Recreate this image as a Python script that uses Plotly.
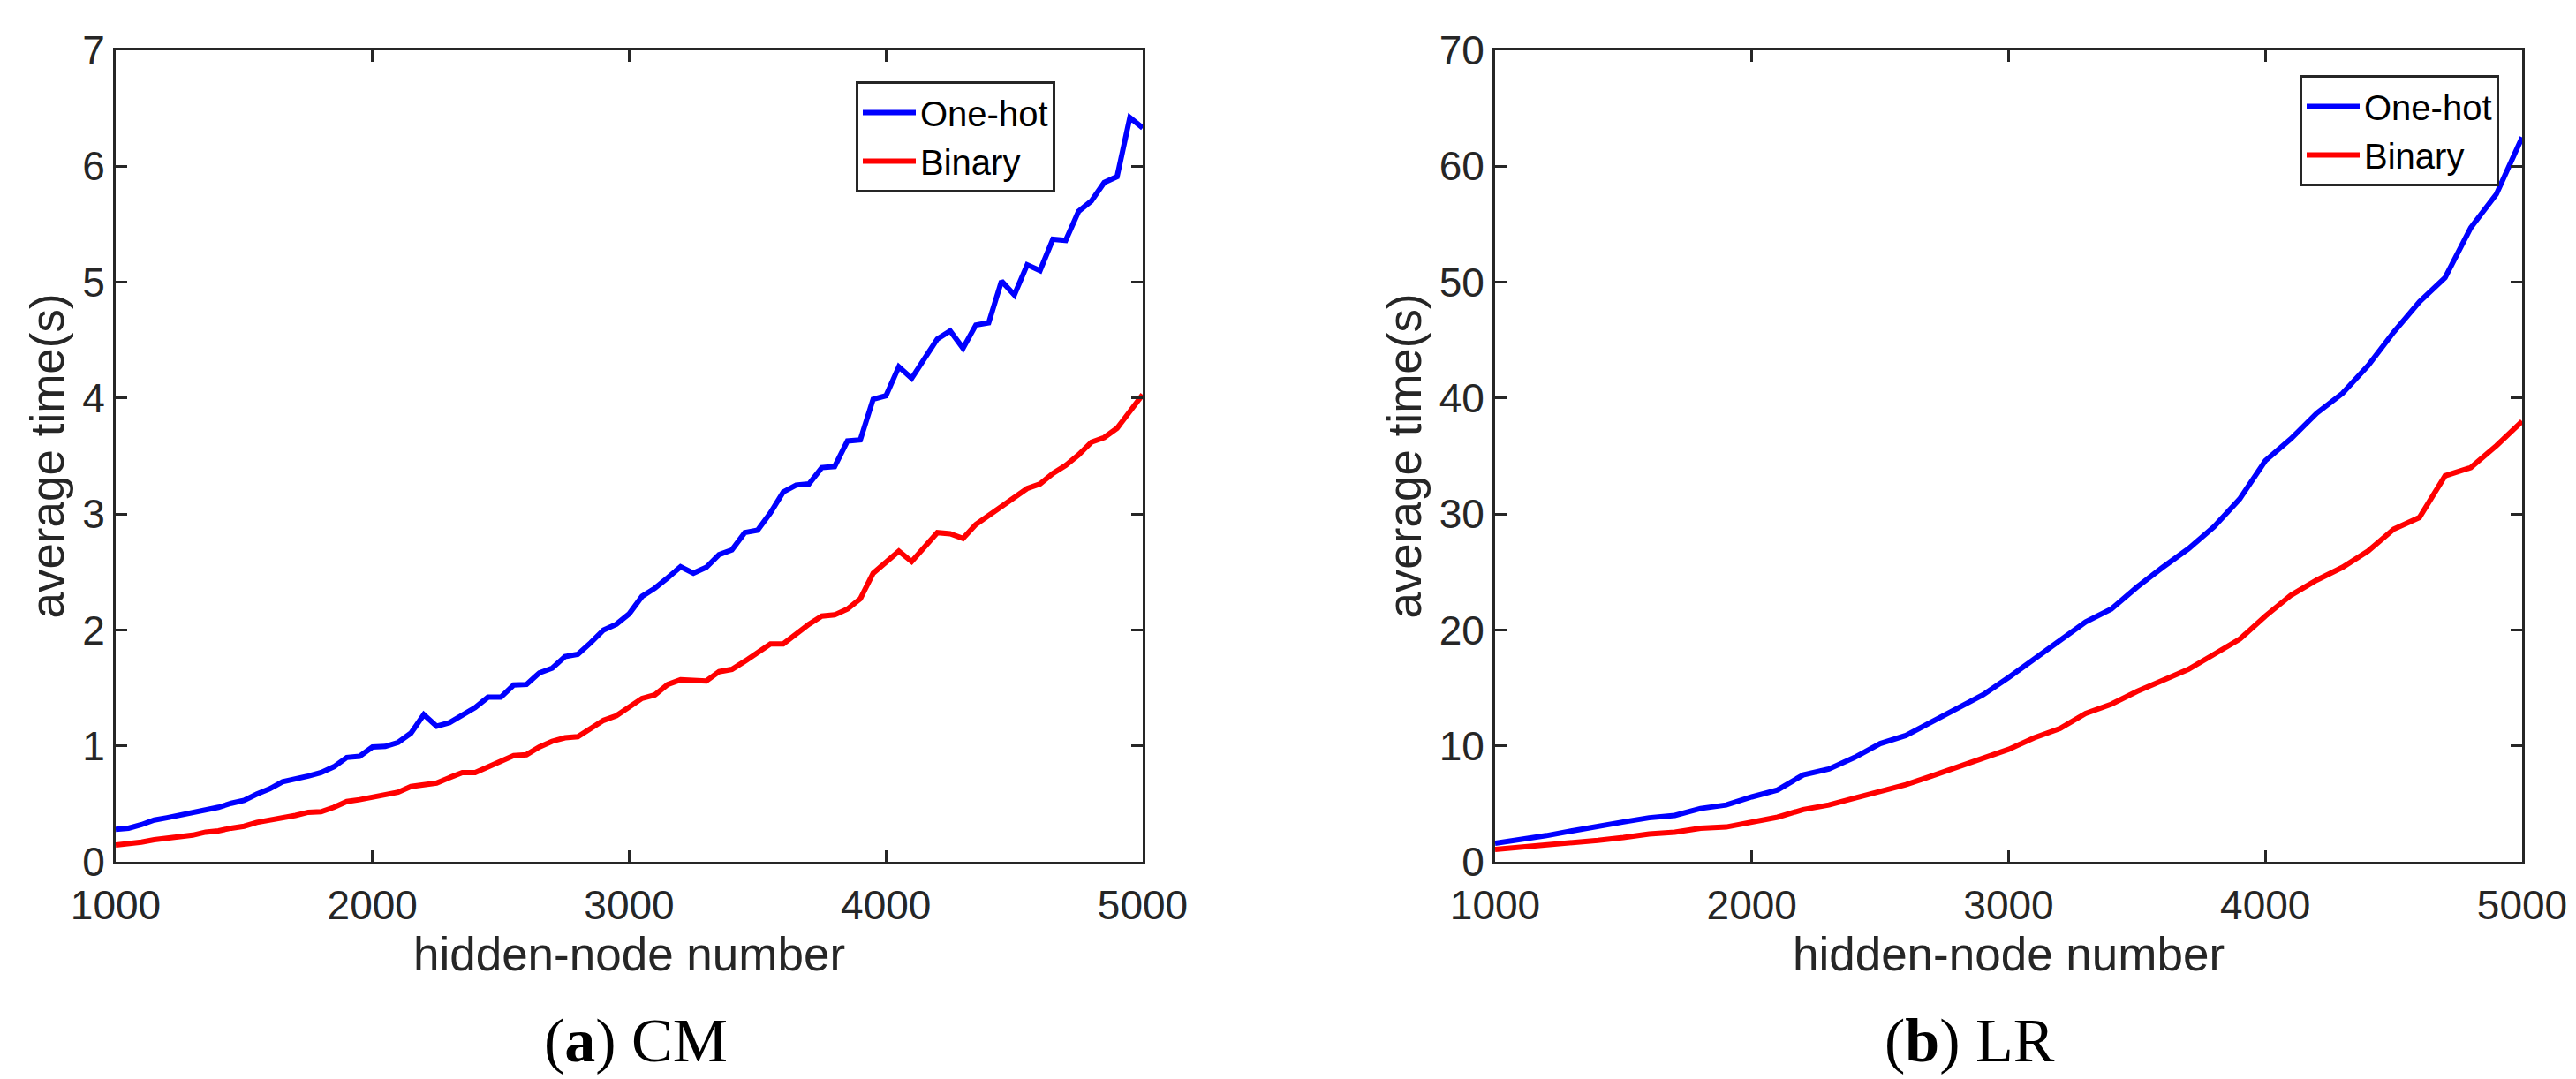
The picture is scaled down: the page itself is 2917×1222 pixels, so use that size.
import plotly.graph_objects as go

# ---------------- data ----------------
nodes_cm = list(range(1000, 5001, 50))
cm_onehot = [0.28, 0.29, 0.32, 0.36, 0.38, 0.40, 0.42, 0.45, 0.47, 0.505,
             0.53, 0.585, 0.63, 0.69, 0.71, 0.74, 0.77, 0.82, 0.90, 0.91,
             0.99, 0.995, 1.03, 1.11, 1.27, 1.17, 1.20, 1.27, 1.33, 1.42,
             1.42, 1.525, 1.53, 1.63, 1.67, 1.77, 1.79, 1.89, 2.00, 2.05,
             2.14, 2.29, 2.36, 2.45, 2.545, 2.49, 2.54, 2.65, 2.69, 2.84,
             2.86, 3.01, 3.19, 3.25, 3.26, 3.40, 3.41, 3.63, 3.64, 3.99,
             4.02, 4.27, 4.17, 4.34, 4.51, 4.58, 4.43, 4.63, 4.65, 5.01,
             4.89, 5.15, 5.10, 5.37, 5.36, 5.61, 5.70, 5.86, 5.91, 6.42,
             6.33]
cm_binary = [0.145, 0.155, 0.17, 0.19, 0.20, 0.213, 0.23, 0.256, 0.267, 0.29,
             0.307, 0.34, 0.358, 0.373, 0.40, 0.427, 0.432, 0.47, 0.52, 0.536,
             0.56, 0.576, 0.60, 0.65, 0.663, 0.68, 0.726, 0.77, 0.77, 0.817,
             0.86, 0.916, 0.924, 0.99, 1.04, 1.07, 1.08, 1.15, 1.22, 1.26,
             1.33, 1.41, 1.44, 1.53, 1.57, 1.56, 1.56, 1.64, 1.66, 1.73,
             1.80, 1.88, 1.88, 1.97, 2.05, 2.12, 2.13, 2.18, 2.27, 2.49,
             2.59, 2.68, 2.59, 2.72, 2.84, 2.83, 2.79, 2.91, 2.99, 3.07,
             3.14, 3.22, 3.26, 3.35, 3.42, 3.51, 3.62, 3.66, 3.74, 3.89,
             4.03]

nodes_lr = list(range(1000, 5001, 100))
lr_onehot = [1.6, 1.9, 2.26, 2.67, 3.1, 3.44, 3.8, 4.0, 4.6, 4.9,
             5.6, 6.2, 7.5, 8.0, 9.0, 10.2, 10.9, 12.1, 13.3, 14.4,
             15.9, 17.5, 19.0, 20.7, 21.8, 23.7, 25.4, 27.0, 28.9, 31.3,
             34.6, 36.5, 38.7, 40.4, 42.8, 45.7, 48.3, 50.4, 54.7, 57.6,
             62.5]
lr_binary = [1.07, 1.25, 1.5, 1.6, 1.85, 2.1, 2.4, 2.55, 2.9, 3.0,
             3.4, 3.85, 4.5, 4.9, 5.5, 6.1, 6.65, 7.4, 8.2, 8.9,
             9.7, 10.7, 11.5, 12.8, 13.6, 14.7, 15.7, 16.6, 17.9, 19.2,
             21.2, 23.0, 24.3, 25.4, 26.8, 28.7, 29.7, 33.3, 34.0, 35.9,
             38.0]

x_ticks = [1000, 2000, 3000, 4000, 5000]
cm_yticks = [0, 1, 2, 3, 4, 5, 6, 7]
lr_yticks = [0, 10, 20, 30, 40, 50, 60, 70]
series_names = ["One-hot", "Binary"]
x_title = "hidden-node number"
y_title = "average time(s)"
captions = ["(<b>a</b>) CM", "(<b>b</b>) LR"]

# ---------------- figure ----------------
W, H = 2917, 1222
BLUE, RED = "#0000FF", "#FF0000"
AX = "#262626"
SANS = "Liberation Sans, Arial, Helvetica, sans-serif"
SERIF = "Liberation Serif, Times New Roman, serif"

fig = go.Figure()
fig.add_trace(go.Scatter(x=nodes_cm, y=cm_onehot, mode="lines", name=series_names[0],
                         line=dict(color=BLUE, width=6), xaxis="x", yaxis="y", legend="legend"))
fig.add_trace(go.Scatter(x=nodes_cm, y=cm_binary, mode="lines", name=series_names[1],
                         line=dict(color=RED, width=6), xaxis="x", yaxis="y", legend="legend"))
fig.add_trace(go.Scatter(x=nodes_lr, y=lr_onehot, mode="lines", name=series_names[0],
                         line=dict(color=BLUE, width=6), xaxis="x2", yaxis="y2", legend="legend2"))
fig.add_trace(go.Scatter(x=nodes_lr, y=lr_binary, mode="lines", name=series_names[1],
                         line=dict(color=RED, width=6), xaxis="x2", yaxis="y2", legend="legend2"))

def px_x(p):
    return p / W

def px_y(p):
    return (H - p) / H

ydom = [px_y(968), px_y(49)]

common_axis = dict(showline=True, linecolor=AX, linewidth=3, mirror="allticks",
                   ticks="inside", ticklen=13, tickwidth=3, tickcolor=AX,
                   showgrid=False, zeroline=False, automargin=False,
                   tickfont=dict(family=SANS, size=46, color=AX),
                   title_font=dict(family=SANS, size=53, color=AX))

fig.update_layout(
    width=W, height=H,
    margin=dict(l=0, r=0, t=0, b=0, autoexpand=False),
    paper_bgcolor="white", plot_bgcolor="white",
    xaxis=dict(domain=[px_x(123), px_x(1286)], range=[1000, 5000], tickvals=x_ticks,
               anchor="y", ticklabelstandoff=7, title=dict(text=x_title, standoff=0), **common_axis),
    yaxis=dict(domain=ydom, range=[0, 7], tickvals=cm_yticks, anchor="x",
               title=dict(text=y_title, standoff=4), **common_axis),
    xaxis2=dict(domain=[px_x(1685), px_x(2848)], range=[1000, 5000], tickvals=x_ticks,
                anchor="y2", ticklabelstandoff=7, title=dict(text=x_title, standoff=0), **common_axis),
    yaxis2=dict(domain=ydom, range=[0, 70], tickvals=lr_yticks, anchor="x2",
                title=dict(text=y_title, standoff=4), **common_axis),
    legend=dict(x=px_x(1187), y=px_y(84), xanchor="right", yanchor="top",
                bgcolor="white", bordercolor=AX, borderwidth=3,
                font=dict(family=SANS, size=40, color="black"), itemwidth=60),
    legend2=dict(x=px_x(2822), y=px_y(77), xanchor="right", yanchor="top",
                 bgcolor="white", bordercolor=AX, borderwidth=3,
                 font=dict(family=SANS, size=40, color="black"), itemwidth=60),
    showlegend=True,
)

for cx, text in zip([712, 2222], captions):
    fig.add_annotation(x=px_x(cx), y=px_y(1170), xref="paper", yref="paper",
                       text=text, showarrow=False, xanchor="center", yanchor="middle",
                       font=dict(family=SERIF, size=70, color="black"))

fig.write_html("out.html")
